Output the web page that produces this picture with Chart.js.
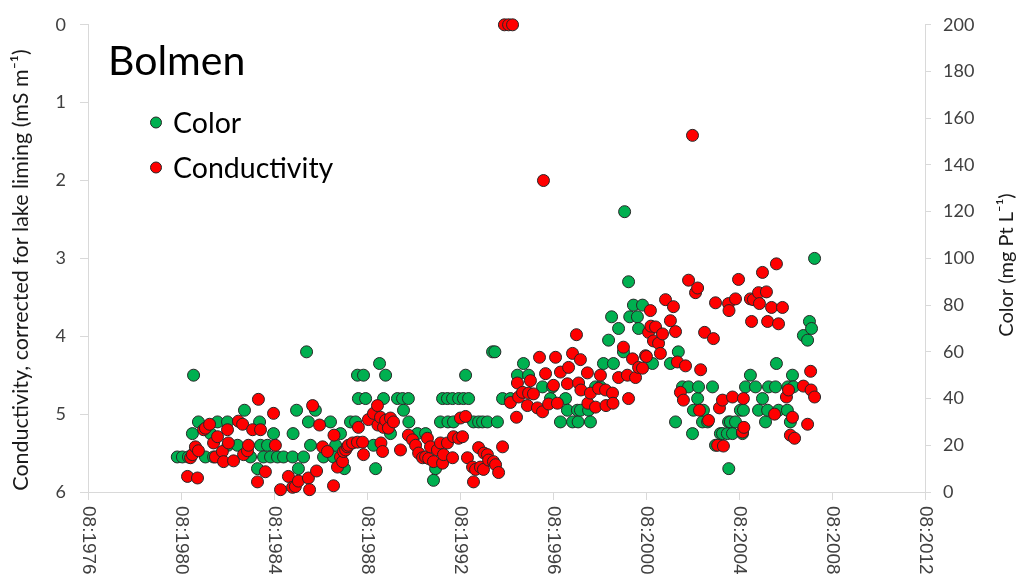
<!DOCTYPE html>
<html>
<head>
<meta charset="utf-8">
<script src="https://cdn.jsdelivr.net/npm/chart.js@4.4.1/dist/chart.umd.min.js"></script>
<style>
  html, body { margin: 0; padding: 0; background: #ffffff; }
  canvas { display: block; }
</style>
</head>
<body>
<canvas id="chart" width="1018" height="578"></canvas>
<script>
// Lake Bolmen: water colour and lime-corrected conductivity, sampled through the years
const lakeName = 'Bolmen';

// Colour (mg Pt L-1), decimal year of sampling
const colorDates = [
  1979.84, 1980.06, 1980.32, 1980.49, 1980.54, 1980.75, 1981.05, 1981.27, 1981.40, 1981.57,
  1982.00, 1982.02, 1982.43, 1982.73, 1982.99, 1983.29, 1983.38, 1983.42, 1983.55, 1983.72,
  1983.85, 1983.98, 1984.15, 1984.41, 1984.80, 1984.82, 1984.97, 1985.05, 1985.27, 1985.40,
  1985.48, 1985.57, 1985.78, 1986.13, 1986.43, 1986.56, 1986.65, 1986.86, 1987.03, 1987.29,
  1987.51, 1987.59, 1987.63, 1987.85, 1987.94, 1988.28, 1988.37, 1988.54, 1988.71, 1988.80,
  1989.01, 1989.31, 1989.53, 1989.57, 1989.78, 1989.80, 1990.17, 1990.52, 1990.86, 1990.95,
  1991.16, 1991.25, 1991.46, 1991.48, 1991.68, 1991.72, 1991.94, 1992.15, 1992.24, 1992.37,
  1992.58, 1992.80, 1992.97, 1993.18, 1993.40, 1993.50, 1993.61, 1993.83, 1994.17, 1994.47,
  1994.73, 1994.95, 1995.55, 1995.89, 1995.98, 1996.32, 1996.54, 1996.62, 1996.84, 1997.05,
  1997.08, 1997.18, 1997.53, 1997.61, 1997.83, 1998.04, 1998.17, 1998.39, 1998.52, 1998.60,
  1998.82, 1999.03, 1999.08, 1999.25, 1999.30, 1999.46, 1999.63, 1999.68, 1999.85, 2000.28,
  2001.05, 2001.27, 2001.39, 2001.57, 2001.83, 2002.00, 2002.04, 2002.22, 2002.26, 2002.43,
  2002.47, 2002.65, 2002.86, 2002.99, 2003.20, 2003.29, 2003.50, 2003.55, 2003.56, 2003.63,
  2003.72, 2003.85, 2004.06, 2004.15, 2004.19, 2004.28, 2004.49, 2004.71, 2004.84, 2005.01,
  2005.14, 2005.23, 2005.27, 2005.57, 2005.61, 2005.70, 2006.08, 2006.10, 2006.21, 2006.30,
  2006.34, 2006.77, 2006.95, 2007.03, 2007.12, 2007.25
];
const colorValues = [
  15, 15, 15, 25, 50, 30, 15, 25, 15, 30,
  30, 20, 20, 35, 15, 10, 30, 20, 15, 20,
  15, 25, 15, 15, 15, 25, 35, 10, 15, 60,
  30, 20, 35, 15, 30, 15, 20, 25, 10, 30,
  30, 50, 40, 50, 40, 20, 10, 55, 40, 50,
  25, 40, 40, 35, 40, 30, 25, 25, 5, 10,
  30, 40, 40, 30, 40, 30, 40, 40, 50, 40,
  30, 30, 30, 30, 60, 60, 30, 40, 40, 50,
  55, 50, 45, 40, 45, 30, 40, 35, 30, 35,
  30, 35, 35, 30, 45, 45, 55, 65, 75, 55,
  70, 60, 120, 90, 75, 80, 75, 70, 80, 55,
  55, 30, 60, 45, 45, 25, 35, 40, 45, 30,
  35, 30, 45, 20, 25, 25, 25, 30, 10, 30,
  25, 30, 35, 25, 35, 45, 50, 45, 35, 40,
  30, 35, 45, 45, 55, 35, 35, 45, 30, 50,
  45, 67, 65, 73, 70, 100
];

// Conductivity corrected for lake liming (mS m-1), decimal year of sampling
const conductivityDates = [
  1980.28, 1980.41, 1980.49, 1980.62, 1980.71, 1980.75, 1980.97, 1981.05, 1981.23, 1981.40,
  1981.48, 1981.57, 1981.78, 1981.83, 1982.00, 1982.04, 1982.26, 1982.47, 1982.65, 1982.69,
  1982.86, 1982.90, 1983.08, 1983.29, 1983.33, 1983.42, 1983.63, 1983.98, 1984.06, 1984.28,
  1984.62, 1984.80, 1984.92, 1985.05, 1985.48, 1985.53, 1985.66, 1985.83, 1985.96, 1986.09,
  1986.30, 1986.56, 1986.58, 1986.73, 1986.86, 1986.95, 1986.99, 1987.08, 1987.16, 1987.20,
  1987.38, 1987.59, 1987.63, 1987.81, 1987.85, 1988.06, 1988.28, 1988.45, 1988.47, 1988.58,
  1988.60, 1988.67, 1988.71, 1988.80, 1988.92, 1989.01, 1989.14, 1989.44, 1989.78, 1989.96,
  1990.09, 1990.22, 1990.39, 1990.52, 1990.60, 1990.65, 1990.73, 1990.86, 1991.03, 1991.16,
  1991.25, 1991.29, 1991.46, 1991.68, 1991.72, 1991.94, 1992.02, 1992.11, 1992.24, 1992.32,
  1992.54, 1992.58, 1992.67, 1992.80, 1992.88, 1993.01, 1993.03, 1993.18, 1993.23, 1993.44,
  1993.53, 1993.66, 1993.83, 1993.91, 1994.09, 1994.17, 1994.26, 1994.43, 1994.47, 1994.52,
  1994.69, 1994.90, 1994.95, 1995.03, 1995.16, 1995.33, 1995.42, 1995.55, 1995.59, 1995.68,
  1995.81, 1996.02, 1996.11, 1996.19, 1996.32, 1996.62, 1996.67, 1996.84, 1997.01, 1997.10,
  1997.18, 1997.20, 1997.48, 1997.50, 1997.61, 1997.83, 1997.96, 1998.04, 1998.26, 1998.28,
  1998.56, 1998.58, 1998.82, 1999.03, 1999.20, 1999.25, 1999.42, 1999.55, 1999.68, 1999.85,
  1999.98, 2000.02, 2000.11, 2000.19, 2000.21, 2000.32, 2000.41, 2000.54, 2000.62, 2000.71,
  2000.84, 2001.05, 2001.18, 2001.27, 2001.35, 2001.48, 2001.61, 2001.70, 2001.83, 2002.00,
  2002.13, 2002.22, 2002.30, 2002.35, 2002.52, 2002.69, 2002.90, 2002.99, 2003.08, 2003.16,
  2003.29, 2003.33, 2003.55, 2003.57, 2003.72, 2003.85, 2003.98, 2004.15, 2004.19, 2004.21,
  2004.49, 2004.54, 2004.62, 2004.84, 2004.88, 2005.01, 2005.18, 2005.23, 2005.40, 2005.53,
  2005.61, 2005.70, 2005.87, 2006.04, 2006.13, 2006.21, 2006.30, 2006.39, 2006.77, 2006.95,
  2007.08, 2007.10, 2007.25
];
const conductivityValues = [
  5.80, 5.56, 5.52, 5.42, 5.82, 5.47, 5.20, 5.18, 5.13, 5.37,
  5.55, 5.29, 5.48, 5.61, 5.20, 5.37, 5.60, 5.09, 5.13, 5.52,
  5.47, 5.40, 5.20, 5.87, 4.81, 5.20, 5.74, 4.99, 5.40, 5.97,
  5.80, 5.94, 5.93, 5.86, 5.82, 5.97, 4.89, 5.73, 5.14, 5.42,
  5.48, 5.92, 5.27, 5.68, 5.55, 5.61, 5.48, 5.46, 5.42, 5.40,
  5.37, 5.36, 5.17, 5.36, 5.52, 5.07, 4.99, 4.89, 5.14, 5.04,
  5.37, 5.48, 5.17, 5.08, 5.18, 5.05, 5.10, 5.46, 5.27, 5.33,
  5.40, 5.50, 5.56, 5.55, 5.31, 5.57, 5.42, 5.61, 5.46, 5.37,
  5.63, 5.52, 5.37, 5.56, 5.29, 5.31, 5.05, 5.29, 5.03, 5.56,
  5.68, 5.87, 5.71, 5.43, 5.68, 5.71, 5.50, 5.52, 5.59, 5.61,
  5.65, 5.75, 5.42, 0.00, 0.00, 4.85, 0.00, 5.04, 4.60, 4.78,
  4.72, 4.89, 4.73, 4.57, 4.74, 4.92, 4.27, 4.97, 2.00, 4.48,
  4.87, 4.63, 4.27, 4.86, 4.46, 4.61, 4.40, 4.22, 3.98, 4.60,
  4.30, 4.69, 4.47, 4.86, 4.73, 4.91, 4.67, 4.50, 4.69, 4.89,
  4.73, 4.86, 4.53, 4.14, 4.50, 4.80, 4.29, 4.53, 4.40, 4.41,
  4.25, 4.26, 3.95, 3.67, 3.87, 4.06, 3.88, 4.09, 4.22, 3.97,
  3.53, 3.80, 3.62, 3.94, 4.33, 4.72, 4.82, 4.38, 3.28, 1.42,
  3.44, 3.38, 4.95, 4.43, 3.95, 5.08, 4.03, 3.57, 5.40, 4.92,
  4.82, 5.41, 3.58, 3.67, 4.78, 3.52, 3.27, 5.23, 4.80, 5.17,
  3.52, 3.81, 3.53, 3.44, 3.58, 3.18, 3.43, 3.81, 3.63, 5.00,
  3.07, 3.84, 3.63, 4.78, 4.69, 5.27, 5.04, 5.31, 4.64, 5.13,
  4.45, 4.69, 4.78
];

// Date axis: a tick every fourth year, labelled month:year
const xTickYears  = [1976, 1980, 1984, 1988, 1992, 1996, 2000, 2004, 2008, 2012];
const xTickLabels = ['08:1976', '08:1980', '08:1984', '08:1988', '08:1992',
                     '08:1996', '08:2000', '08:2004', '08:2008', '08:2012'];

const leftAxisTitle  = 'Conductivity, corrected for lake liming (mS m\u207B\u00B9)';
const rightAxisTitle = 'Color (mg Pt L\u207B\u00B9)';

const GREEN = '#00b050';
const RED = '#ff0000';
const EDGE = '#262626';
const AXIS = '#d9d9d9';
const TEXT = '#404040';
const SANS = 'Lato, "Open Sans", sans-serif';

const toPoints = (xs, ys) => xs.map((x, i) => ({ x: x, y: ys[i] }));

// Draws the rotated date labels, the two axis titles and the in-plot legend
const decorations = {
  id: 'decorations',
  afterDraw(chart) {
    const ctx = chart.ctx;
    const xs = chart.scales.x;
    const area = chart.chartArea;
    ctx.save();

    // date labels, reading top to bottom
    ctx.fillStyle = TEXT;
    ctx.font = '19px "Liberation Sans", Arial, sans-serif';
    ctx.textAlign = 'left';
    ctx.textBaseline = 'middle';
    xTickYears.forEach((yr, i) => {
      const px = xs.getPixelForValue(yr);
      ctx.save();
      ctx.translate(px, area.bottom + 14);
      ctx.rotate(Math.PI / 2);
      ctx.fillText(xTickLabels[i], 0, 0);
      ctx.restore();
    });

    // axis titles
    ctx.fillStyle = '#1a1a1a';
    ctx.textAlign = 'center';
    ctx.textBaseline = 'middle';
    ctx.font = '21.5px ' + SANS;
    ctx.save();
    ctx.translate(21, 270);
    ctx.rotate(-Math.PI / 2);
    ctx.fillText(leftAxisTitle, 0, 0);
    ctx.restore();
    ctx.font = '20px ' + SANS;
    ctx.save();
    ctx.translate(1007, 265);
    ctx.rotate(-Math.PI / 2);
    ctx.fillText(rightAxisTitle, 0, 0);
    ctx.restore();

    // legend with the lake name as its heading
    ctx.fillStyle = '#000000';
    ctx.textAlign = 'left';
    ctx.textBaseline = 'alphabetic';
    ctx.font = '41px ' + SANS;
    ctx.fillText(lakeName, 108, 75);

    const rows = [133, 178];
    chart.data.datasets.forEach((ds, i) => {
      const y = rows[i];
      ctx.beginPath();
      ctx.arc(156, y - 10.5, 5.5, 0, Math.PI * 2);
      ctx.fillStyle = ds.backgroundColor;
      ctx.fill();
      ctx.lineWidth = 1;
      ctx.strokeStyle = EDGE;
      ctx.stroke();
      ctx.fillStyle = '#000000';
      ctx.font = '28.5px ' + SANS;
      ctx.fillText(ds.label, 173, y);
    });
    ctx.restore();
  }
};

const axisGrid = {
  display: true,
  drawOnChartArea: false,
  drawTicks: true,
  color: AXIS,
  lineWidth: 1
};

new Chart(document.getElementById('chart'), {
  type: 'scatter',
  data: {
    datasets: [
      {
        label: 'Color',
        data: toPoints(colorDates, colorValues),
        yAxisID: 'y1',
        backgroundColor: GREEN,
        borderColor: EDGE,
        borderWidth: 1,
        pointRadius: 6,
        order: 1,
        clip: false
      },
      {
        label: 'Conductivity',
        data: toPoints(conductivityDates, conductivityValues),
        yAxisID: 'y',
        backgroundColor: RED,
        borderColor: EDGE,
        borderWidth: 1,
        pointRadius: 6,
        order: 0,
        clip: false
      }
    ]
  },
  options: {
    responsive: false,
    animation: false,
    devicePixelRatio: 1,
    layout: { padding: { top: 22, left: 0, right: 0, bottom: 0 } },
    plugins: {
      legend: { display: false },
      tooltip: { enabled: false }
    },
    scales: {
      x: {
        type: 'linear',
        position: 'bottom',
        min: 1976,
        max: 2012,
        afterBuildTicks: (scale) => { scale.ticks = xTickYears.map(v => ({ value: v })); },
        ticks: { display: false },
        grid: Object.assign({}, axisGrid, { tickLength: 8 }),
        border: { display: true, color: AXIS, width: 1 },
        afterFit: (scale) => { scale.height = 86; }
      },
      y: {
        type: 'linear',
        position: 'left',
        reverse: true,
        min: 0,
        max: 6,
        ticks: { stepSize: 1, padding: 14, color: TEXT, font: { family: SANS, size: 18 } },
        grid: Object.assign({}, axisGrid, { tickLength: 8 }),
        border: { display: true, color: AXIS, width: 1 },
        afterFit: (scale) => { scale.width = 88; }
      },
      y1: {
        type: 'linear',
        position: 'right',
        min: 0,
        max: 200,
        ticks: { stepSize: 20, padding: 12, color: TEXT, font: { family: SANS, size: 18 } },
        grid: Object.assign({}, axisGrid, { tickLength: 6 }),
        border: { display: true, color: AXIS, width: 1 },
        afterFit: (scale) => { scale.width = 93; }
      }
    }
  },
  plugins: [decorations]
});
</script>
</body>
</html>
